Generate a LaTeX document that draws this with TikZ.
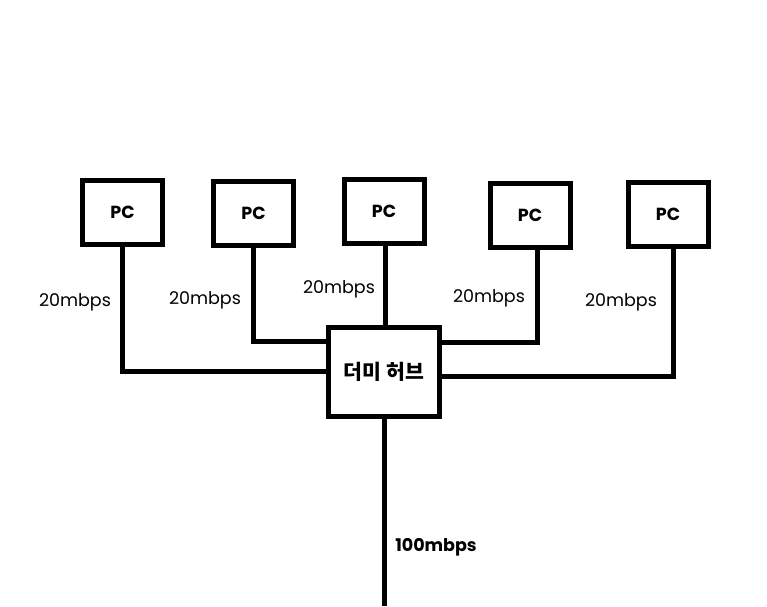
\documentclass[tikz,border=0pt]{standalone}
\usepackage{fontspec}
\setmainfont{Noto Sans CJK KR}
\newfontfamily\latinfont{Poppins}
\begin{document}
\begin{tikzpicture}[x=1pt,y=-1pt,
  box/.style={draw=black,line width=5pt,fill=white,inner sep=0pt,minimum width=80pt,minimum height=64pt,font=\latinfont\fontsize{17.5}{20}\selectfont\bfseries},
  hubbox/.style={draw=black,line width=5pt,fill=white,inner sep=0pt,minimum width=111pt,minimum height=89pt,font=\fontsize{20.5}{24}\selectfont\bfseries},
  wire/.style={line width=5pt,line join=miter},
  lbl/.style={font=\latinfont\fontsize{17.5}{20}\selectfont,inner sep=0pt}]
\useasboundingbox (0,0) rectangle (767,606);
\node[box] (pc1) at (122.5,212.5) {PC};
\node[box] (pc2) at (253.5,213) {PC};
\node[box] (pc3) at (384,211.5) {PC};
\node[box] (pc4) at (530,215.5) {PC};
\node[box] (pc5) at (668,214) {PC};
\node[hubbox] (hub) at (384,372) {더미 허브};
\coordinate (end) at (384,606);
\draw[wire] (pc1.south -| 122,0) |- (hub.west |- 0,371);
\draw[wire] (pc2.south -| 253,0) |- (hub.west |- 0,341);
\draw[wire] (pc3.south -| 385,0) -- (hub.north -| 385,0);
\draw[wire] (pc4.south -| 537,0) |- (hub.east |- 0,342);
\draw[wire] (pc5.south -| 673,0) |- (hub.east |- 0,376);
\draw[wire] (hub.south) -- (end);
\node[lbl] (l1) at (75,302) {20mbps};
\node[lbl] (l2) at (205,300) {20mbps};
\node[lbl] (l3) at (339,289) {20mbps};
\node[lbl] (l4) at (489,298) {20mbps};
\node[lbl] (l5) at (621,302) {20mbps};
\node[lbl,font=\latinfont\fontsize{17.5}{20}\selectfont\bfseries] (l6) at (436,547) {100mbps};
\end{tikzpicture}
\end{document}
